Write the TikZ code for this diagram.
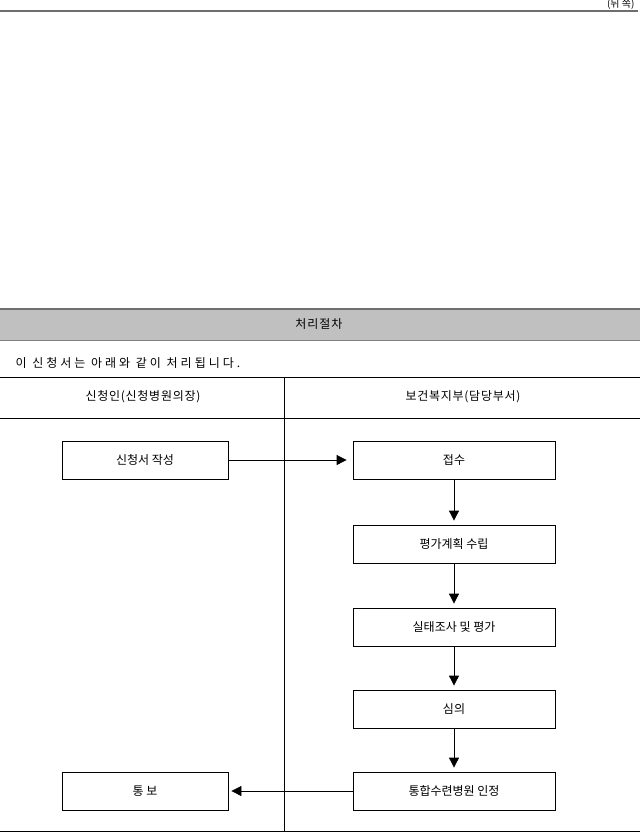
\documentclass[tikz,border=0pt]{standalone}
\usepackage{fontspec}
\setmainfont{Noto Sans CJK KR}
\usepackage{xcolor}
\usetikzlibrary{arrows.meta, positioning}
\definecolor{rulegray}{HTML}{6E6E6E}
\definecolor{bandgray}{HTML}{C0C0C0}

\begin{document}
\begin{tikzpicture}[x=1pt, y=-1pt, font=\fontsize{12}{14}\selectfont,
    spaced/.style={font=\fontsize{12}{14}\selectfont\addfontfeatures{LetterSpace=#1}},
    procbox/.style={rectangle, draw, thick, inner sep=0pt},
    flow/.style={-{Triangle[length=10pt, width=10pt]}, thick, shorten >=5pt}]
    \useasboundingbox (0,0) rectangle (640,833);

    % Page header
    \node[anchor=east, font=\fontsize{10}{11}\selectfont] (side) at (638,4) {(뒤 쪽)};
    \draw[rulegray, line width=2.5pt] (0,11) -- (638,11);

    % Procedure band
    \fill[bandgray] (0,309) rectangle (640,340);
    \draw[rulegray, line width=2.5pt] (0,309) -- (640,309);
    \draw[gray, line width=0.8pt] (0,340.5) -- (640,340.5);
    \node[spaced=8] (title) at (319,324) {처리절차};
    \node[spaced=25, anchor=west] (intro) at (12,363) {이 신청서는 아래와 같이 처리됩니다.};

    % Table frame
    \draw[thick] (0,377.5) -- (640,377.5);
    \draw[thick] (0,418) -- (640,418);
    \draw[thick] (0,831.5) -- (640,831.5);
    \draw[thick] (284.5,377.5) -- (284.5,831.5);
    \node[spaced=6] (applicant) at (143,397) {신청인(신청병원의장)};
    \node[spaced=6] (ministry) at (463,397) {보건복지부(담당부서)};

    % Applicant side
    \node[procbox, minimum width=166pt, minimum height=38pt] (write) at (145,460) {신청서 작성};
    \node[procbox, minimum width=166pt, minimum height=38pt] (notify) at (145,791) {통 보};

    % Ministry side
    \node[procbox, minimum width=202pt, minimum height=38pt] (receive) at (454,460) {접수};
    \node[procbox, minimum width=202pt, minimum height=38pt] (plan) at (454,544) {평가계획 수립};
    \node[procbox, minimum width=202pt, minimum height=38pt] (survey) at (454,627) {실태조사 및 평가};
    \node[procbox, minimum width=202pt, minimum height=38pt] (review) at (454,709) {심의};
    \node[procbox, minimum width=202pt, minimum height=38pt] (approve) at (454,791) {통합수련병원 인정};

    % Flow arrows
    \draw[flow, shorten >=6pt] (write) -- (receive);
    \draw[flow, shorten >=4pt] (receive) -- (plan);
    \draw[flow, shorten >=4pt] (plan) -- (survey);
    \draw[flow, shorten >=4pt] (survey) -- (review);
    \draw[flow, shorten >=4pt] (review) -- (approve);
    \draw[flow, shorten >=3pt] (approve) -- (notify);
\end{tikzpicture}
\end{document}
